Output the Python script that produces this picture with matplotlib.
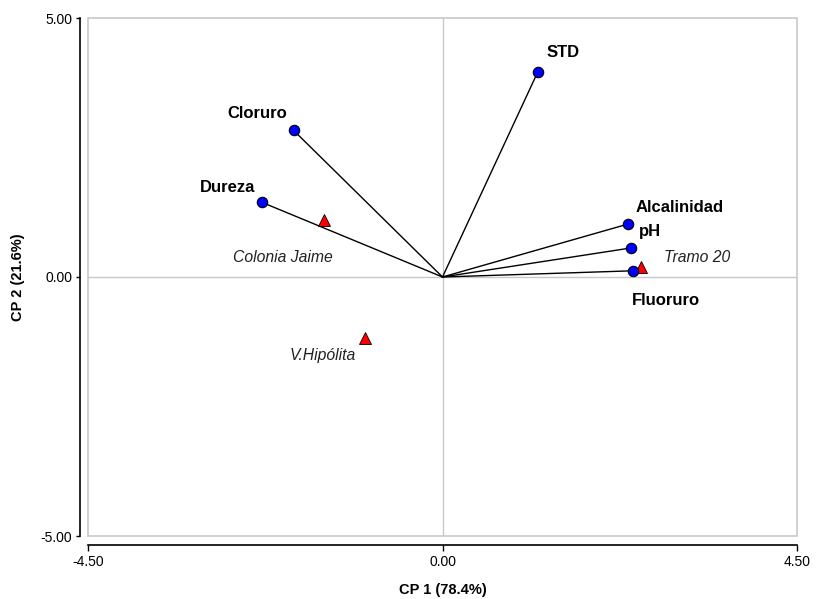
import matplotlib
matplotlib.use("Agg")
import matplotlib.pyplot as plt
from matplotlib.patches import Rectangle

plt.rcParams['font.family'] = ['Liberation Sans', 'DejaVu Sans']

# Variables (loadings)
var_names = ["STD", "Cloruro", "Dureza", "Alcalinidad", "pH", "Fluoruro"]
var_x = [1.21, -1.89, -2.29, 2.35, 2.39, 2.42]
var_y = [3.96, 2.83, 1.44, 1.02, 0.56, 0.12]
var_label_x = [1.53, -2.35, -2.73, 3.01, 2.64, 2.83]
var_label_y = [4.33, 3.15, 1.73, 1.35, 0.87, -0.46]

# Sites (scores)
site_names = ["Colonia Jaime", "V.Hipólita", "Tramo 20"]
site_x = [-1.50, -0.99, 2.52]
site_y = [1.10, -1.17, 0.19]
site_label_x = [-2.02, -1.52, 3.23]
site_label_y = [0.37, -1.52, 0.37]

xticks = [-4.5, 0.0, 4.5]
yticks = [-5.0, 0.0, 5.0]

fig = plt.figure(figsize=(8.16, 5.99), dpi=100)
ax = fig.add_axes([88/816, 63/599, 709/816, 518/599])
ax.set_xlim(-4.5, 4.5)
ax.set_ylim(-5, 5)

ax.axhline(0, color='#c8c8c8', lw=1, zorder=1)
ax.axvline(0, color='#c8c8c8', lw=1, zorder=1)
ax.add_patch(Rectangle((0, 0), 1, 1, transform=ax.transAxes, fill=False,
                       edgecolor='#c8c8c8', lw=1.2, zorder=1, clip_on=False))

for x, y in zip(var_x, var_y):
    ax.plot([0, x], [0, y], color='black', lw=1, zorder=2)
ax.plot(var_x, var_y, 'o', ms=7.5, mfc='#0000ff', mec='black', mew=0.8, ls='none', zorder=4)
ax.plot(site_x, site_y, '^', ms=8, mfc='#ff0000', mec='black', mew=0.6, ls='none', zorder=3)

for n, x, y in zip(var_names, var_label_x, var_label_y):
    ax.text(x, y, n, ha='center', va='center', fontsize=12, fontweight='bold')
for n, x, y in zip(site_names, site_label_x, site_label_y):
    ax.text(x, y, n, ha='center', va='center', fontsize=11.3, fontstyle='italic', color='#222222')

for s in ['top', 'right']:
    ax.spines[s].set_visible(False)
ax.spines['left'].set_position(('outward', 6))
ax.spines['bottom'].set_position(('outward', 6.5))
ax.spines['left'].set_linewidth(1.2)
ax.spines['bottom'].set_linewidth(1.2)

ax.set_xticks(xticks)
ax.set_yticks(yticks)
ax.set_xticklabels([f"{v:.2f}" for v in xticks])
ax.set_yticklabels([f"{v:.2f}" for v in yticks])
ax.tick_params(axis='x', labelsize=10, length=4, width=1, direction='out', pad=3.5)
ax.tick_params(axis='y', labelsize=10, length=3, width=1, direction='out', pad=2.5)

ax.set_xlabel("CP 1 (78.4%)", fontsize=10.5, fontweight='bold', va='center')
ax.set_ylabel("CP 2 (21.6%)", fontsize=10.5, fontweight='bold', va='center')
ax.xaxis.set_label_coords(0.5, -(590 - 536) / 518)
ax.yaxis.set_label_coords(-(88 - 18) / 709, 0.5)

fig.savefig("out.png", dpi=100)
